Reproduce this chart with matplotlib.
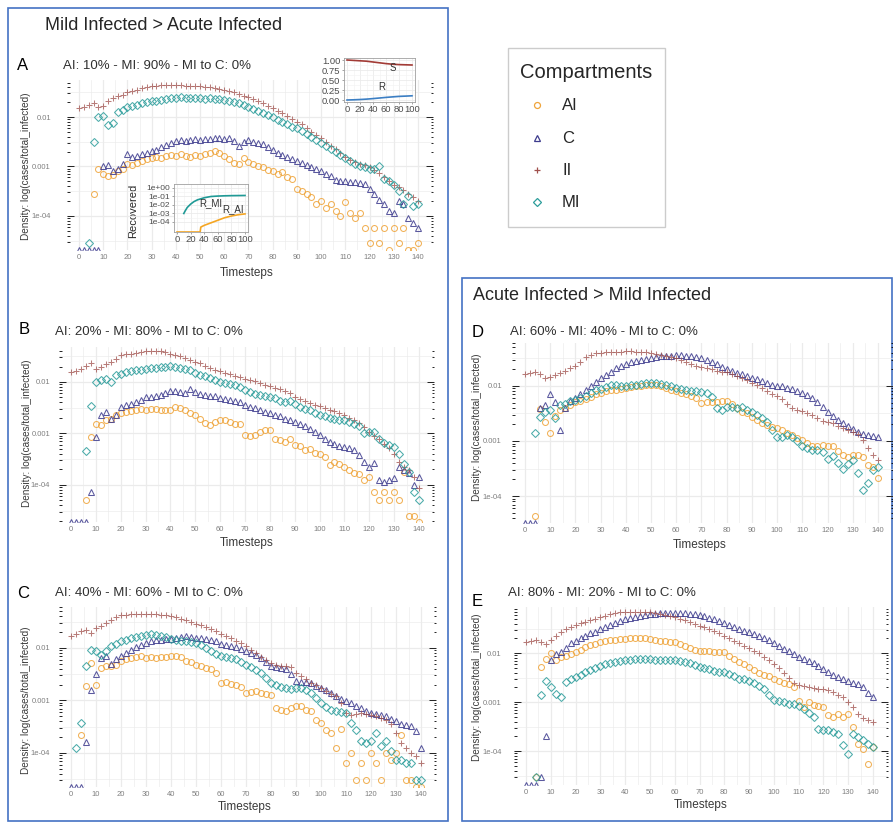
import numpy as np
import matplotlib
matplotlib.use('Agg')
import matplotlib.pyplot as plt
from matplotlib.patches import Rectangle
from matplotlib.ticker import FixedLocator, LogLocator, NullFormatter

plt.rcParams['font.family'] = ['Liberation Sans', 'DejaVu Sans']

N = np.nan      # no point drawn
Z = -np.inf     # zero density, drawn on the bottom edge

# timesteps (every second step)
t = np.arange(0, 141, 2)

# log10(cases/total_infected) per compartment and panel
A_AI = [N, N, N, -3.55, -3.05, -3.15, -3.20, -3.18, -3.10, -3.05,
        -2.95, -2.98, -2.93, -2.88, -2.85, -2.83, -2.80, -2.82, -2.78, -2.76,
        -2.78, -2.75, -2.78, -2.80, -2.76, -2.78, -2.74, -2.72, -2.68, -2.72,
        -2.78, -2.85, -2.92, -2.95, -2.82, -2.90, -2.95, -3.00, -3.02, -3.08,
        -3.10, -3.15, -3.12, -3.22, -3.25, -3.45, -3.50, -3.55, -3.62, -3.75,
        -3.70, -3.85, -3.75, -3.90, -4.00, -3.72, -3.95, -4.05, -3.95, -4.25,
        -4.55, -4.25, -4.55, -4.25, Z, -4.25, -4.55, -4.25, Z, Z,
        -4.55]
A_C = [Z, Z, Z, Z, Z, -3.00, -2.98, -3.10, -3.05, -2.95,
       -2.75, -2.80, -2.78, -2.74, -2.72, -2.68, -2.66, -2.60, -2.56, -2.52,
       -2.48, -2.47, -2.48, -2.46, -2.45, -2.46, -2.44, -2.45, -2.43, -2.42,
       -2.44, -2.43, -2.48, -2.58, -2.50, -2.47, -2.50, -2.52, -2.55, -2.60,
       -2.66, -2.72, -2.76, -2.80, -2.85, -2.88, -2.93, -2.97, -3.02, -3.06,
       -3.10, -3.16, -3.20, -3.27, -3.30, -3.30, -3.32, -3.32, -3.33, -3.35,
       -3.45, -3.55, -3.68, -3.75, -3.90, -3.95, -3.70, -3.75, -4.05, -4.15,
       -4.25]
A_II = [-1.82, -1.80, -1.76, -1.72, -1.80, -1.78, -1.68, -1.62, -1.58, -1.55,
        -1.50, -1.47, -1.45, -1.42, -1.40, -1.38, -1.37, -1.36, -1.35, -1.35,
        -1.36, -1.36, -1.37, -1.37, -1.38, -1.38, -1.40, -1.40, -1.42, -1.44,
        -1.46, -1.48, -1.50, -1.53, -1.57, -1.60, -1.64, -1.68, -1.72, -1.77,
        -1.82, -1.87, -1.92, -1.98, -2.03, -2.09, -2.15, -2.22, -2.30, -2.36,
        -2.43, -2.50, -2.58, -2.65, -2.73, -2.80, -2.86, -2.91, -2.95, -2.98,
        -3.02, -3.08, -3.13, -3.22, -3.30, -3.37, -3.42, -3.48, -3.55, -3.62,
        -3.70]
A_MI = [N, N, -4.55, -2.50, -2.00, -1.98, -2.16, -2.12, -1.90, -1.85,
        -1.80, -1.78, -1.76, -1.72, -1.70, -1.68, -1.67, -1.66, -1.64, -1.62,
        -1.61, -1.60, -1.61, -1.62, -1.61, -1.62, -1.63, -1.62, -1.63, -1.64,
        -1.66, -1.68, -1.70, -1.72, -1.76, -1.80, -1.84, -1.88, -1.92, -1.96,
        -2.00, -2.05, -2.10, -2.15, -2.20, -2.22, -2.28, -2.34, -2.40, -2.46,
        -2.52, -2.58, -2.64, -2.70, -2.77, -2.83, -2.88, -2.95, -3.00, -3.02,
        -3.05, -3.05, -3.00, -3.25, -3.30, -3.38, -3.50, -3.75, -3.60, -3.80,
        -3.75]

B_AI = [N, N, N, -4.29, -3.06, -2.81, -2.84, -2.74, -2.71, -2.65,
        -2.61, -2.58, -2.56, -2.55, -2.52, -2.55, -2.53, -2.52, -2.54, -2.55,
        -2.55, -2.48, -2.50, -2.55, -2.60, -2.65, -2.72, -2.80, -2.84, -2.78,
        -2.74, -2.73, -2.78, -2.81, -2.82, -3.03, -3.05, -3.03, -2.98, -2.94,
        -2.94, -3.10, -3.12, -3.16, -3.10, -3.23, -3.25, -3.32, -3.30, -3.38,
        -3.39, -3.45, -3.61, -3.55, -3.60, -3.65, -3.70, -3.77, -3.78, -3.90,
        -3.84, -4.13, -4.29, -4.13, -4.29, -4.13, -4.29, -3.74, -4.61, -4.61,
        Z]
B_C = [Z, Z, Z, Z, -4.13, -3.06, -2.65, -2.58, -2.71, -2.65,
       -2.48, -2.45, -2.42, -2.39, -2.35, -2.30, -2.29, -2.27, -2.26, -2.22,
       -2.17, -2.17, -2.19, -2.21, -2.14, -2.20, -2.23, -2.25, -2.27, -2.28,
       -2.32, -2.33, -2.34, -2.36, -2.38, -2.45, -2.48, -2.51, -2.55, -2.58,
       -2.61, -2.64, -2.67, -2.71, -2.74, -2.77, -2.82, -2.86, -2.92, -2.98,
       -3.03, -3.10, -3.16, -3.20, -3.24, -3.26, -3.28, -3.32, -3.42, -3.55,
       -3.65, -3.58, -3.90, -3.94, -3.90, -3.87, -3.65, -3.70, -3.77, -4.00,
       -3.84]
B_II = [-1.81, -1.78, -1.74, -1.68, -1.63, -1.74, -1.71, -1.66, -1.62, -1.56,
        -1.48, -1.46, -1.45, -1.43, -1.42, -1.40, -1.40, -1.39, -1.40, -1.42,
        -1.45, -1.48, -1.50, -1.54, -1.58, -1.61, -1.64, -1.69, -1.73, -1.76,
        -1.79, -1.82, -1.85, -1.88, -1.91, -1.95, -1.97, -1.99, -2.02, -2.05,
        -2.08, -2.11, -2.14, -2.18, -2.22, -2.29, -2.33, -2.37, -2.41, -2.44,
        -2.47, -2.50, -2.54, -2.57, -2.60, -2.65, -2.69, -2.73, -2.80, -2.88,
        -2.97, -3.04, -3.10, -3.20, -3.28, -3.39, -3.55, -3.65, -3.71, -3.84,
        -4.05]
B_MI = [N, N, N, -3.35, -2.47, -2.00, -1.97, -1.94, -2.00, -1.87,
        -1.84, -1.81, -1.79, -1.77, -1.76, -1.74, -1.73, -1.72, -1.71, -1.70,
        -1.68, -1.70, -1.72, -1.74, -1.77, -1.83, -1.86, -1.89, -1.92, -1.96,
        -2.00, -2.02, -2.04, -2.06, -2.10, -2.16, -2.19, -2.23, -2.25, -2.27,
        -2.29, -2.32, -2.36, -2.39, -2.36, -2.43, -2.48, -2.52, -2.55, -2.60,
        -2.65, -2.67, -2.69, -2.71, -2.73, -2.74, -2.78, -2.82, -2.86, -3.00,
        -2.97, -2.98, -3.10, -3.19, -3.23, -3.26, -3.39, -3.60, -3.74, -4.13,
        -4.29]

C_AI = [N, N, -3.65, -2.73, -2.29, -2.70, -2.38, -2.35, -2.34, -2.32,
        -2.25, -2.22, -2.20, -2.18, -2.16, -2.19, -2.18, -2.19, -2.18, -2.17,
        -2.16, -2.15, -2.18, -2.25, -2.27, -2.32, -2.35, -2.38, -2.41, -2.48,
        -2.67, -2.65, -2.68, -2.70, -2.75, -2.86, -2.84, -2.83, -2.85, -2.87,
        -2.89, -3.14, -3.18, -3.21, -3.15, -3.11, -3.11, -3.18, -3.21, -3.37,
        -3.43, -3.56, -3.62, -3.90, -3.55, -4.19, -4.00, -4.51, -4.19, -4.51,
        -4.00, -4.19, -4.51, -4.00, -4.13, -4.00, -3.65, -4.51, -4.51, Z,
        Z]
C_C = [Z, Z, Z, -3.80, -2.80, -2.50, -2.20, -2.16, -2.30, -2.22,
       -2.16, -2.10, -2.04, -1.98, -1.94, -1.90, -1.87, -1.85, -1.84, -1.83,
       -1.83, -1.82, -1.80, -1.78, -1.79, -1.81, -1.82, -1.83, -1.84, -1.87,
       -1.92, -1.94, -1.96, -1.98, -2.02, -2.06, -2.10, -2.14, -2.19, -2.26,
       -2.34, -2.36, -2.38, -2.41, -2.50, -2.63, -2.64, -2.65, -2.67, -2.72,
       -2.76, -2.80, -2.86, -2.92, -2.97, -3.02, -3.05, -3.10, -3.14, -3.20,
       -3.24, -3.26, -3.28, -3.30, -3.35, -3.40, -3.44, -3.47, -3.49, -3.59,
       -3.90]
C_II = [-1.77, -1.74, -1.68, -1.65, -1.71, -1.62, -1.58, -1.53, -1.47, -1.42,
        -1.38, -1.37, -1.36, -1.35, -1.35, -1.35, -1.35, -1.36, -1.37, -1.38,
        -1.40, -1.42, -1.44, -1.46, -1.50, -1.54, -1.57, -1.60, -1.64, -1.68,
        -1.73, -1.77, -1.81, -1.86, -1.91, -1.97, -2.03, -2.10, -2.17, -2.23,
        -2.29, -2.32, -2.34, -2.35, -2.36, -2.48, -2.54, -2.60, -2.66, -2.71,
        -2.76, -2.82, -2.88, -2.92, -3.05, -3.24, -3.28, -3.26, -3.24, -3.25,
        -3.27, -3.30, -3.33, -3.37, -3.45, -3.62, -3.81, -3.90, -4.00, -4.05,
        -4.19]
C_MI = [N, -3.90, -3.43, -2.34, -2.03, -2.06, -2.13, -2.05, -1.97, -1.92,
        -1.87, -1.84, -1.81, -1.79, -1.77, -1.75, -1.74, -1.75, -1.77, -1.80,
        -1.83, -1.85, -1.86, -1.87, -1.88, -1.90, -1.95, -2.00, -2.06, -2.11,
        -2.16, -2.18, -2.20, -2.22, -2.26, -2.32, -2.37, -2.42, -2.48, -2.58,
        -2.67, -2.70, -2.74, -2.76, -2.78, -2.76, -2.77, -2.80, -2.86, -2.96,
        -3.05, -3.12, -3.18, -3.21, -3.23, -3.24, -3.43, -3.56, -3.78, -3.81,
        -3.78, -3.62, -3.87, -3.78, -3.97, -4.13, -4.13, -4.19, -4.19, -4.51,
        -4.51]

D_AI = [N, N, -4.36, -2.41, -2.65, -2.86, -2.55, -2.43, -2.40, -2.35,
        -2.30, -2.28, -2.24, -2.20, -2.15, -2.12, -2.10, -2.08, -2.07, -2.05,
        -2.03, -2.02, -2.00, -2.01, -1.99, -1.98, -1.99, -2.00, -2.04, -2.07,
        -2.10, -2.12, -2.14, -2.18, -2.22, -2.31, -2.30, -2.29, -2.30, -2.28,
        -2.28, -2.33, -2.40, -2.47, -2.50, -2.56, -2.62, -2.68, -2.71, -2.74,
        -2.77, -2.80, -2.86, -2.90, -2.95, -2.98, -3.03, -3.10, -3.09, -3.08,
        -3.10, -3.10, -3.18, -3.26, -3.30, -3.26, -3.25, -3.30, -3.44, -3.47,
        -3.68]
D_C = [Z, Z, Z, -2.40, -2.35, -2.15, -2.30, -2.80, -2.40, -2.28,
       -2.22, -2.15, -2.07, -2.00, -1.93, -1.86, -1.80, -1.74, -1.68, -1.64,
       -1.60, -1.57, -1.55, -1.53, -1.51, -1.50, -1.48, -1.46, -1.45, -1.45,
       -1.44, -1.44, -1.45, -1.46, -1.48, -1.50, -1.53, -1.56, -1.60, -1.65,
       -1.70, -1.73, -1.76, -1.79, -1.82, -1.85, -1.88, -1.91, -1.95, -1.98,
       -2.00, -2.01, -2.03, -2.05, -2.09, -2.13, -2.17, -2.22, -2.30, -2.38,
       -2.47, -2.55, -2.62, -2.68, -2.72, -2.78, -2.84, -2.87, -2.90, -2.91,
       -2.93]
D_II = [-1.78, -1.76, -1.74, -1.78, -1.85, -1.84, -1.80, -1.77, -1.73, -1.68,
        -1.63, -1.56, -1.48, -1.44, -1.41, -1.40, -1.39, -1.39, -1.38, -1.38,
        -1.37, -1.37, -1.38, -1.38, -1.39, -1.40, -1.42, -1.43, -1.45, -1.48,
        -1.50, -1.53, -1.56, -1.60, -1.64, -1.66, -1.68, -1.70, -1.72, -1.74,
        -1.74, -1.78, -1.82, -1.86, -1.90, -1.95, -1.99, -2.04, -2.10, -2.14,
        -2.18, -2.24, -2.32, -2.40, -2.44, -2.46, -2.50, -2.53, -2.58, -2.63,
        -2.65, -2.68, -2.72, -2.77, -2.80, -2.83, -2.88, -2.98, -3.13, -3.25,
        -3.35]
D_MI = [N, N, -2.86, -2.56, -2.47, -2.44, -2.59, -2.35, -2.32, -2.28,
        -2.25, -2.22, -2.18, -2.12, -2.08, -2.05, -2.02, -1.99, -1.98, -2.00,
        -2.00, -1.99, -1.98, -1.97, -1.95, -1.94, -1.94, -1.96, -1.98, -2.01,
        -2.04, -2.06, -2.08, -2.10, -2.10, -2.11, -2.13, -2.20, -2.40, -2.44,
        -2.38, -2.38, -2.40, -2.38, -2.44, -2.47, -2.52, -2.58, -2.65, -2.80,
        -2.92, -2.92, -2.90, -2.92, -3.00, -3.10, -3.12, -3.16, -3.16, -3.20,
        -3.32, -3.28, -3.40, -3.50, -3.42, -3.35, -3.59, -3.89, -3.77, -3.53,
        -3.47]

E_AI = [N, N, -4.53, -2.29, -2.12, -2.00, -2.15, -2.08, -2.05, -2.02,
        -1.98, -1.93, -1.88, -1.84, -1.81, -1.78, -1.76, -1.74, -1.73, -1.72,
        -1.71, -1.70, -1.70, -1.69, -1.70, -1.72, -1.74, -1.75, -1.76, -1.77,
        -1.78, -1.82, -1.86, -1.90, -1.94, -1.95, -1.95, -1.96, -1.97, -1.98,
        -1.98, -2.05, -2.12, -2.18, -2.22, -2.28, -2.35, -2.40, -2.44, -2.46,
        -2.52, -2.56, -2.60, -2.63, -2.70, -2.97, -3.10, -3.00, -3.05, -3.07,
        -3.10, -3.27, -3.30, -3.24, -3.30, -3.24, -3.50, -3.85, -3.95, -4.26,
        -3.92]
E_C = [Z, Z, Z, -4.53, -3.70, -2.15, -2.01, -1.98, -1.90, -1.80,
       -1.76, -1.70, -1.65, -1.60, -1.56, -1.51, -1.46, -1.42, -1.38, -1.34,
       -1.31, -1.28, -1.26, -1.24, -1.22, -1.21, -1.20, -1.19, -1.19, -1.18,
       -1.18, -1.18, -1.19, -1.20, -1.21, -1.23, -1.25, -1.28, -1.31, -1.35,
       -1.38, -1.42, -1.46, -1.50, -1.54, -1.58, -1.62, -1.66, -1.70, -1.74,
       -1.80, -1.86, -1.91, -1.96, -2.02, -2.08, -2.13, -2.17, -2.21, -2.26,
       -2.32, -2.39, -2.44, -2.48, -2.53, -2.57, -2.61, -2.64, -2.70, -2.82,
       -2.90]
E_II = [-1.78, -1.76, -1.74, -1.78, -1.81, -1.74, -1.65, -1.57, -1.50, -1.46,
        -1.42, -1.39, -1.36, -1.33, -1.30, -1.27, -1.24, -1.21, -1.19, -1.17,
        -1.16, -1.16, -1.16, -1.16, -1.16, -1.17, -1.18, -1.20, -1.22, -1.25,
        -1.27, -1.30, -1.33, -1.36, -1.40, -1.44, -1.47, -1.51, -1.55, -1.60,
        -1.65, -1.70, -1.75, -1.80, -1.85, -1.90, -1.95, -2.00, -2.08, -2.15,
        -2.22, -2.30, -2.40, -2.50, -2.60, -2.66, -2.68, -2.70, -2.72, -2.73,
        -2.73, -2.75, -2.80, -2.86, -2.90, -3.00, -3.10, -3.25, -3.32, -3.36,
        -3.41]
E_MI = [N, N, -4.53, -2.85, -2.56, -2.69, -2.83, -2.90, -2.59, -2.52,
        -2.49, -2.44, -2.38, -2.34, -2.30, -2.26, -2.22, -2.20, -2.18, -2.16,
        -2.14, -2.14, -2.13, -2.12, -2.12, -2.13, -2.14, -2.15, -2.14, -2.15,
        -2.15, -2.16, -2.18, -2.20, -2.25, -2.29, -2.30, -2.33, -2.36, -2.39,
        -2.39, -2.42, -2.46, -2.52, -2.53, -2.56, -2.62, -2.68, -2.73, -2.86,
        -2.95, -2.97, -3.00, -3.03, -3.03, -3.08, -3.14, -3.22, -3.31, -3.54,
        -3.57, -3.57, -3.60, -3.64, -3.88, -4.05, -3.65, -3.71, -3.78, -3.85,
        -3.92]

# inset data (panel A)
inset_t = [0, 10, 20, 30, 40, 50, 60, 70, 80, 90, 100]
S_frac = [1.00, 0.99, 0.98, 0.97, 0.95, 0.93, 0.91, 0.895, 0.885, 0.88, 0.875]
R_frac = [0.0, 0.005, 0.012, 0.022, 0.035, 0.05, 0.065, 0.078, 0.09, 0.097, 0.105]
rmi_t = [10, 12, 15, 20, 25, 30, 40, 50, 60, 70, 80, 90, 100]
rmi_log = [-3.0, -2.7, -2.3, -1.9, -1.6, -1.4, -1.15, -1.0, -0.95, -0.92, -0.9, -0.89, -0.88]
rai_t = [0, 34, 35, 40, 50, 60, 70, 80, 90, 100]
rai_log = [Z, Z, -4.6, -4.4, -4.1, -3.8, -3.5, -3.3, -3.15, -3.05]

compartments = ['AI', 'C', 'II', 'MI']
colors = {'AI': '#EFA43A', 'C': '#3E3C8E', 'II': '#A0504C', 'MI': '#2C9D9B'}
markers = {'AI': 'o', 'C': '^', 'II': '+', 'MI': 'D'}
msize = {'AI': 4.3, 'C': 4.6, 'II': 5.0, 'MI': 3.8}
alpha = {'AI': 0.85, 'C': 0.85, 'II': 0.75, 'MI': 0.85}

W, H = 893, 823
fig = plt.figure(figsize=(W / 100, H / 100), dpi=100)


def px_axes(x0, y0, x1, y1):
    return fig.add_axes([x0 / W, 1 - y1 / H, (x1 - x0) / W, (y1 - y0) / H])


ov = px_axes(0, 0, W, H)
ov.set_xlim(0, W)
ov.set_ylim(H, 0)
ov.axis('off')

panels = [
    dict(letter='A', sub='AI: 10% - MI: 90% - MI to C: 0%', data=[A_AI, A_C, A_II, A_MI],
         box=(66.9, 80, 432.5, 250), ylim=(-4.69, -1.25), ypad=11.5,
         ylab=(26, 166), xlab=(247, 273), let=(17, 65), subxy=(63, 66)),
    dict(letter='B', sub='AI: 20% - MI: 80% - MI to C: 0%', data=[B_AI, B_C, B_II, B_MI],
         box=(58.6, 347, 433.9, 522), ylim=(-4.72, -1.32), ypad=6,
         ylab=(27, 433), xlab=(247, 543), let=(19, 329), subxy=(55, 332)),
    dict(letter='C', sub='AI: 40% - MI: 60% - MI to C: 0%', data=[C_AI, C_C, C_II, C_MI],
         box=(58.5, 607, 436, 787), ylim=(-4.65, -1.22), ypad=6,
         ylab=(26, 700), xlab=(245, 807), let=(17, 594), subxy=(55, 593)),
    dict(letter='D', sub='AI: 60% - MI: 40% - MI to C: 0%', data=[D_AI, D_C, D_II, D_MI],
         box=(512.4, 343, 893.1, 523), ylim=(-4.49, -1.22), ypad=7.5,
         ylab=(477, 427), xlab=(700, 545), let=(472, 332), subxy=(510, 332)),
    dict(letter='E', sub='AI: 80% - MI: 20% - MI to C: 0%', data=[E_AI, E_C, E_II, E_MI],
         box=(513.6, 607, 887.9, 785), ylim=(-4.69, -1.06), ypad=8.5,
         ylab=(477, 687), xlab=(701, 805), let=(472, 602), subxy=(508, 593)),
]

for p in panels:
    ax = px_axes(*p['box'])
    ax.set_facecolor('none')
    ylo, yhi = p['ylim']
    ax.set_yscale('log')
    ax.set_xlim(-5, 146)
    ax.set_ylim(10 ** ylo, 10 ** yhi)
    for name, vals in zip(compartments, p['data']):
        assert len(vals) == len(t)
        v = np.asarray(vals, dtype=float)
        y = np.where(np.isneginf(v), 10 ** ylo, 10 ** v)
        ax.plot(t, y, ls='none', marker=markers[name], ms=msize[name], mfc='none',
                mec=colors[name], mew=0.75, alpha=alpha[name], zorder=3)
    for k in range(-5, 0):
        ax.axhline(10.0 ** k, color='#EBEBEB', lw=0.9, zorder=0)
        ax.axhline(10.0 ** (k + 0.5), color='#EBEBEB', lw=0.45, zorder=0)
    ax.set_xticks(np.arange(0, 141, 10))
    ax.set_xticks(np.arange(5, 141, 10), minor=True)
    ax.grid(axis='x', which='major', color='#EBEBEB', lw=0.9)
    ax.grid(axis='x', which='minor', color='#EBEBEB', lw=0.45)
    ax.set_axisbelow(True)
    ax.yaxis.set_major_locator(FixedLocator([1e-4, 1e-3, 1e-2]))
    ax.set_yticklabels(['1e-04', '0.001', '0.01'])
    ax.yaxis.set_minor_locator(LogLocator(base=10, subs=np.arange(2, 10), numticks=20))
    ax.yaxis.set_minor_formatter(NullFormatter())
    ax.tick_params(axis='y', which='both', direction='in', left=True, right=True,
                   color='black', width=0.6, labelsize=5.5, labelcolor='#7F7F7F', pad=p['ypad'])
    ax.tick_params(axis='y', which='major', length=5)
    ax.tick_params(axis='y', which='minor', length=1.8)
    ax.tick_params(axis='x', which='both', length=0, labelsize=5.5, labelcolor='#7F7F7F', pad=3)
    for s in ax.spines.values():
        s.set_visible(False)

    ov.text(*p['ylab'], 'Density: log(cases/total_infected)', rotation=90, ha='center',
            va='center', fontsize=7.2, color='#3A3A3A')
    ov.text(*p['xlab'], 'Timesteps', ha='center', va='center', fontsize=8.5, color='#3A3A3A')
    ov.text(*p['let'], p['letter'], ha='left', va='center', fontsize=12, color='black')
    ov.text(*p['subxy'], p['sub'], ha='left', va='center', fontsize=9.5, color='#303030')

# group titles and frames
ov.text(45, 25, 'Mild Infected > Acute Infected', ha='left', va='center', fontsize=13, color='#262626')
ov.text(473, 296, 'Acute Infected > Mild Infected', ha='left', va='center', fontsize=13, color='#262626')
ov.add_patch(Rectangle((8, 8), 440, 813, fill=False, ec='#4472C4', lw=1.2))
ov.add_patch(Rectangle((462, 278), 430, 543, fill=False, ec='#4472C4', lw=1.2))

# legend
ov.add_patch(Rectangle((508, 48), 157, 179, fill=False, ec='#CCCCCC', lw=1))
ov.text(520, 72, 'Compartments', ha='left', va='center', fontsize=14.5, color='#262626')
for name, ly in zip(compartments, [105, 138, 170, 202]):
    ov.plot([537], [ly], ls='none', marker=markers[name], ms=msize[name], mfc='none',
            mec=colors[name], mew=0.9)
    ov.text(562, ly, name, ha='left', va='center', fontsize=12, color='#262626')


def style_inset(ax, size):
    ax.set_facecolor('white')
    for s in ax.spines.values():
        s.set_color('#A0A0A0')
        s.set_linewidth(0.6)
    ax.tick_params(which='major', length=1.5, width=0.5, color='#808080', labelsize=size,
                   labelcolor='#4D4D4D', pad=1)
    ax.tick_params(which='minor', length=0)
    ax.grid(which='major', color='#EBEBEB', lw=0.6)
    ax.grid(which='minor', color='#F2F2F2', lw=0.4)
    ax.set_axisbelow(True)


# inset 1: S and R fractions
ins1 = px_axes(343.75, 58, 415.25, 102)
ins1.plot(inset_t, S_frac, color='#A23B36', lw=1.2)
ins1.plot(inset_t, R_frac, color='#3C7FC4', lw=1.2)
ins1.set_xlim(-5, 105)
ins1.set_ylim(-0.05, 1.05)
ins1.set_xticks([0, 20, 40, 60, 80, 100])
ins1.set_xticks([10, 30, 50, 70, 90], minor=True)
ins1.set_yticks([0, 0.25, 0.5, 0.75, 1.0])
ins1.set_yticklabels(['0.00', '0.25', '0.50', '0.75', '1.00'])
ins1.set_yticks([0.125, 0.375, 0.625, 0.875], minor=True)
style_inset(ins1, 6.8)
ins1.text(70, 0.80, 'S', ha='center', va='center', fontsize=7, color='#333333')
ins1.text(54, 0.32, 'R', ha='center', va='center', fontsize=7, color='#333333')

# inset 2: recovered by route
ins2 = px_axes(173.6, 184, 248.4, 232)
r_lo, r_hi = -5.18, 0.47
ins2.set_yscale('log')
ins2.set_xlim(-5, 105)
ins2.set_ylim(10 ** r_lo, 10 ** r_hi)
ins2.plot(rmi_t, 10 ** np.asarray(rmi_log), color='#1F9A96', lw=1.2)
rai = np.asarray(rai_log, dtype=float)
ins2.plot(rai_t, np.where(np.isneginf(rai), 10 ** r_lo, 10 ** rai), color='#F5A623', lw=1.2)
ins2.set_xticks([0, 20, 40, 60, 80, 100])
ins2.set_xticks([10, 30, 50, 70, 90], minor=True)
ins2.yaxis.set_major_locator(FixedLocator([1e-4, 1e-3, 1e-2, 1e-1, 1.0]))
ins2.set_yticklabels(['1e-04', '1e-03', '1e-02', '1e-01', '1e+00'])
ins2.yaxis.set_minor_locator(FixedLocator([10 ** -3.5, 10 ** -2.5, 10 ** -1.5, 10 ** -0.5]))
ins2.yaxis.set_minor_formatter(NullFormatter())
style_inset(ins2, 6.8)
ins2.tick_params(axis='y', labelsize=6)
ins2.text(50, 10 ** -1.75, 'R_MI', ha='center', va='center', fontsize=7, color='#333333')
ins2.text(82, 10 ** -2.5, 'R_AI', ha='center', va='center', fontsize=7, color='#333333')
ov.text(133, 211, 'Recovered', rotation=90, ha='center', va='center', fontsize=8, color='#262626')

fig.savefig('out.png', dpi=100, facecolor='white')
